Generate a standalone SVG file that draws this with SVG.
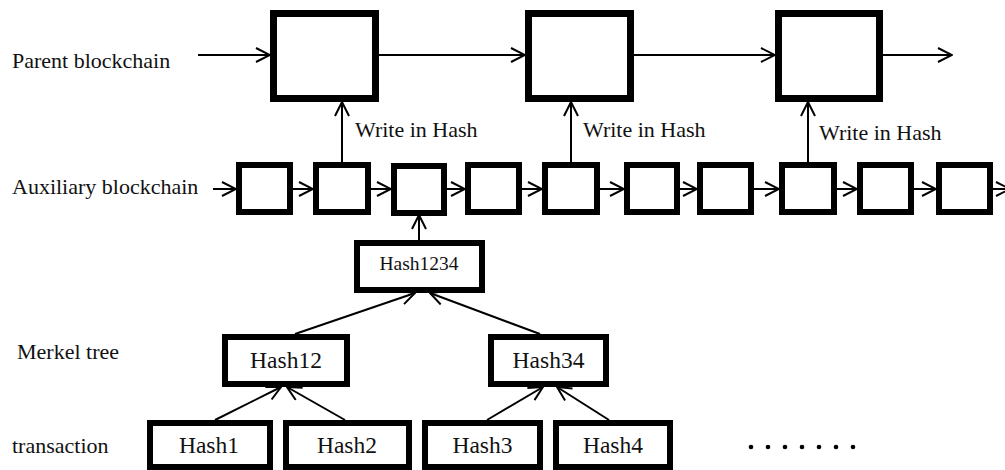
<svg xmlns="http://www.w3.org/2000/svg" width="1005" height="470" viewBox="0 0 1005 470">
<style>
text{font-family:"Liberation Serif","Times New Roman",serif;fill:#111}
.lbl{font-size:22px}
.blk{fill:#fff;stroke:#000;stroke-width:7}
.ablk{fill:#fff;stroke:#000;stroke-width:6}
.tbox{fill:#fff;stroke:#000;stroke-width:6}
.ln{stroke:#000;stroke-width:2;fill:none}
.hb{font-size:23.5px;text-anchor:middle}
</style>
<defs>
<marker id="ah" viewBox="0 0 16 16" refX="15" refY="8" markerWidth="16" markerHeight="16" markerUnits="userSpaceOnUse" orient="auto">
<path d="M1,1 L15,8 L1,15" fill="none" stroke="#000" stroke-width="2"/>
</marker>
</defs>
<rect width="1005" height="470" fill="#fff"/>
<g id="labels">
<text class="lbl" x="12" y="68">Parent blockchain</text>
<text class="lbl" x="12" y="194">Auxiliary blockchain</text>
<text class="lbl" x="17" y="359">Merkel tree</text>
<text class="lbl" x="12" y="453">transaction</text>
<text class="lbl" x="355" y="137">Write in Hash</text>
<text class="lbl" x="583" y="137">Write in Hash</text>
<text class="lbl" x="819" y="140">Write in Hash</text>
</g>
<g id="connectors">
<line class="ln" x1="198" y1="55" x2="270" y2="55" marker-end="url(#ah)"/>
<line class="ln" x1="379" y1="55" x2="525" y2="55" marker-end="url(#ah)"/>
<line class="ln" x1="634" y1="55" x2="775" y2="55" marker-end="url(#ah)"/>
<line class="ln" x1="883" y1="55" x2="952" y2="55" marker-end="url(#ah)"/>
<line class="ln" x1="342" y1="162" x2="342" y2="102" marker-end="url(#ah)"/>
<line class="ln" x1="571" y1="162" x2="571" y2="102" marker-end="url(#ah)"/>
<line class="ln" x1="808" y1="162" x2="808" y2="102" marker-end="url(#ah)"/>
<line class="ln" x1="213" y1="189" x2="236" y2="189" marker-end="url(#ah)"/>
<line class="ln" x1="293" y1="189" x2="313" y2="189" marker-end="url(#ah)"/>
<line class="ln" x1="371" y1="189" x2="391" y2="189" marker-end="url(#ah)"/>
<line class="ln" x1="447" y1="189" x2="465" y2="189" marker-end="url(#ah)"/>
<line class="ln" x1="522" y1="189" x2="542" y2="189" marker-end="url(#ah)"/>
<line class="ln" x1="600" y1="189" x2="624" y2="189" marker-end="url(#ah)"/>
<line class="ln" x1="680" y1="189" x2="697" y2="189" marker-end="url(#ah)"/>
<line class="ln" x1="754" y1="189" x2="779" y2="189" marker-end="url(#ah)"/>
<line class="ln" x1="837" y1="189" x2="857" y2="189" marker-end="url(#ah)"/>
<line class="ln" x1="914" y1="189" x2="936" y2="189" marker-end="url(#ah)"/>
<line class="ln" x1="993" y1="189" x2="1010" y2="189" marker-end="url(#ah)"/>
<line class="ln" x1="419" y1="240" x2="419" y2="215" marker-end="url(#ah)"/>
<line class="ln" x1="295" y1="334" x2="415" y2="293" marker-end="url(#ah)"/>
<line class="ln" x1="540" y1="334" x2="430" y2="293" marker-end="url(#ah)"/>
<line class="ln" x1="215" y1="420" x2="281" y2="387" marker-end="url(#ah)"/>
<line class="ln" x1="345" y1="420" x2="287" y2="387" marker-end="url(#ah)"/>
<line class="ln" x1="487" y1="420" x2="543" y2="387" marker-end="url(#ah)"/>
<line class="ln" x1="609" y1="420" x2="557" y2="387" marker-end="url(#ah)"/>
</g>
<g id="parent1"><rect class="blk" x="273.5" y="13.5" width="102" height="85"/></g>
<g id="parent2"><rect class="blk" x="528.5" y="13.5" width="102" height="85"/></g>
<g id="parent3"><rect class="blk" x="778.5" y="13.5" width="101" height="85"/></g>
<g id="aux1"><rect class="ablk" x="239" y="165" width="51" height="47"/></g>
<g id="aux2"><rect class="ablk" x="316" y="165" width="52" height="47"/></g>
<g id="aux3"><rect class="ablk" x="394" y="166" width="50" height="47"/></g>
<g id="aux4"><rect class="ablk" x="468" y="165" width="51" height="47"/></g>
<g id="aux5"><rect class="ablk" x="545" y="165" width="52" height="47"/></g>
<g id="aux6"><rect class="ablk" x="627" y="165" width="50" height="47"/></g>
<g id="aux7"><rect class="ablk" x="700" y="165" width="51" height="47"/></g>
<g id="aux8"><rect class="ablk" x="782" y="165" width="52" height="47"/></g>
<g id="aux9"><rect class="ablk" x="860" y="165" width="51" height="47"/></g>
<g id="aux10"><rect class="ablk" x="939" y="165" width="51" height="47"/></g>
<g id="hash1234"><rect class="tbox" x="357" y="243" width="125" height="47"/><text x="419" y="270" style="font-size:19.5px;text-anchor:middle">Hash1234</text></g>
<g id="hash12"><rect class="tbox" x="225" y="337" width="122" height="47"/><text class="hb" x="286" y="368">Hash12</text></g>
<g id="hash34"><rect class="tbox" x="491" y="337" width="115" height="47"/><text class="hb" x="548.5" y="368">Hash34</text></g>
<g id="hash1"><rect class="tbox" x="150" y="423" width="120" height="44"/><text class="hb" x="209" y="453">Hash1</text></g>
<g id="hash2"><rect class="tbox" x="286" y="423" width="123" height="44"/><text class="hb" x="347" y="453">Hash2</text></g>
<g id="hash3"><rect class="tbox" x="425" y="423" width="115" height="44"/><text class="hb" x="482.5" y="453">Hash3</text></g>
<g id="hash4"><rect class="tbox" x="556" y="423" width="114" height="44"/><text class="hb" x="613" y="453">Hash4</text></g>
<g id="dots" fill="#000">
<circle cx="751" cy="447" r="2.3"/><circle cx="768" cy="447" r="2.3"/><circle cx="785" cy="447" r="2.3"/><circle cx="802" cy="447" r="2.3"/><circle cx="819" cy="447" r="2.3"/><circle cx="836" cy="447" r="2.3"/><circle cx="853" cy="447" r="2.3"/>
</g>
</svg>
